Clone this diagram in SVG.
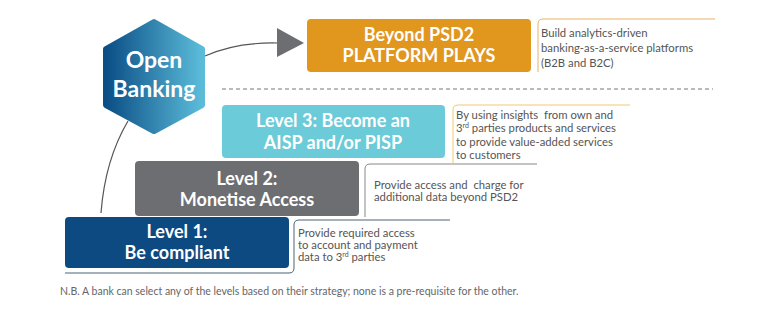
<svg xmlns="http://www.w3.org/2000/svg" width="776" height="314" viewBox="0 0 776 314">
<defs>
<linearGradient id="hexg" x1="0" y1="0" x2="1" y2="0">
<stop offset="0" stop-color="#0b4e86"/>
<stop offset="1" stop-color="#5bbcd9"/>
</linearGradient>
</defs>
<style>
.box{font-family:Lato,"Open Sans","Liberation Sans",sans-serif;font-weight:bold;font-size:18px;fill:#ffffff;text-anchor:middle}
.hex{font-size:23px}
.desc{font-family:Lato,"Open Sans","Liberation Sans",sans-serif;font-size:11.3px;fill:#555555;white-space:pre}
.frame{fill:none;stroke-width:1}
.sup{font-size:7px}
</style>
<rect width="776" height="314" fill="#ffffff"/>
<g id="connectors">
<path d="M205,56 Q236,42 278,43" fill="none" stroke="#555" stroke-width="1.2"/>
<polygon points="277,28 304,43 277,57" fill="#6d6e71"/>
<path d="M128,121 Q105,160 101,213" fill="none" stroke="#555" stroke-width="1.2"/>
<line x1="222" y1="89" x2="713" y2="89" stroke="#777" stroke-width="1" stroke-dasharray="4,3"/>
</g>
<g id="open-banking">
<polygon points="154,22 202,49 202,105 154,131 106,105 106,49" fill="url(#hexg)" stroke="url(#hexg)" stroke-width="6" stroke-linejoin="round"/>
<text class="box hex" x="154" y="68">Open</text>
<text class="box hex" x="154" y="97">Banking</text>
</g>
<g id="beyond">
<rect x="307" y="19" width="224" height="53" rx="4" fill="#e1961e"/>
<text class="box" x="419" y="41">Beyond PSD2</text>
<text class="box" x="419" y="62">PLATFORM PLAYS</text>
</g>
<g id="beyond-desc">
<path class="frame" d="M538,72 V24 Q538,19 543,19 H715" stroke="#e6b468"/>
<text class="desc" x="541" y="37">Build analytics-driven</text>
<text class="desc" x="541" y="52">banking-as-a-service platforms</text>
<text class="desc" x="541" y="67">(B2B and B2C)</text>
</g>
<g id="level3">
<rect x="222" y="105" width="223" height="53" rx="4" fill="#6ccbd8"/>
<text class="box" x="333" y="127">Level 3: Become an</text>
<text class="box" x="333" y="149">AISP and/or PISP</text>
</g>
<g id="level3-desc">
<path class="frame" d="M453,163 V110 Q453,105 458,105 H630" stroke="#f0c870"/>
<text class="desc" x="456" y="119">By using insights  from own and</text>
<text class="desc" x="456" y="132">3<tspan class="sup" dy="-4">rd</tspan><tspan dy="4"> parties products and services</tspan></text>
<text class="desc" x="456" y="146">to provide value-added services</text>
<text class="desc" x="456" y="159">to customers</text>
</g>
<g id="level2">
<rect x="135" y="161" width="224" height="55" rx="4" fill="#6d6e71"/>
<text class="box" x="247" y="185">Level 2:</text>
<text class="box" x="247" y="206">Monetise Access</text>
</g>
<g id="level2-desc">
<path class="frame" d="M365,217 V169 Q365,164 370,164 H537" stroke="#888"/>
<text class="desc" x="374" y="189">Provide access and  charge for</text>
<text class="desc" x="374" y="201">additional data beyond PSD2</text>
</g>
<g id="level1">
<rect x="65" y="217" width="224" height="51" rx="4" fill="#0d4a82"/>
<text class="box" x="177" y="238">Level 1:</text>
<text class="box" x="177" y="259">Be compliant</text>
</g>
<g id="level1-desc">
<path class="frame" d="M450,220 H299 Q294,220 294,225 V268 Q294,273 289,273 H65" stroke="#4a6578"/>
<text class="desc" x="298" y="237">Provide required access</text>
<text class="desc" x="298" y="249">to account and payment</text>
<text class="desc" x="298" y="261">data to 3<tspan class="sup" dy="-4">rd</tspan><tspan dy="4"> parties</tspan></text>
</g>
<text x="60" y="295" font-family="Lato,'Open Sans','Liberation Sans',sans-serif" font-size="10.5" fill="#666">N.B. A bank can select any of the levels based on their strategy; none is a pre-requisite for the other.</text>
</svg>
